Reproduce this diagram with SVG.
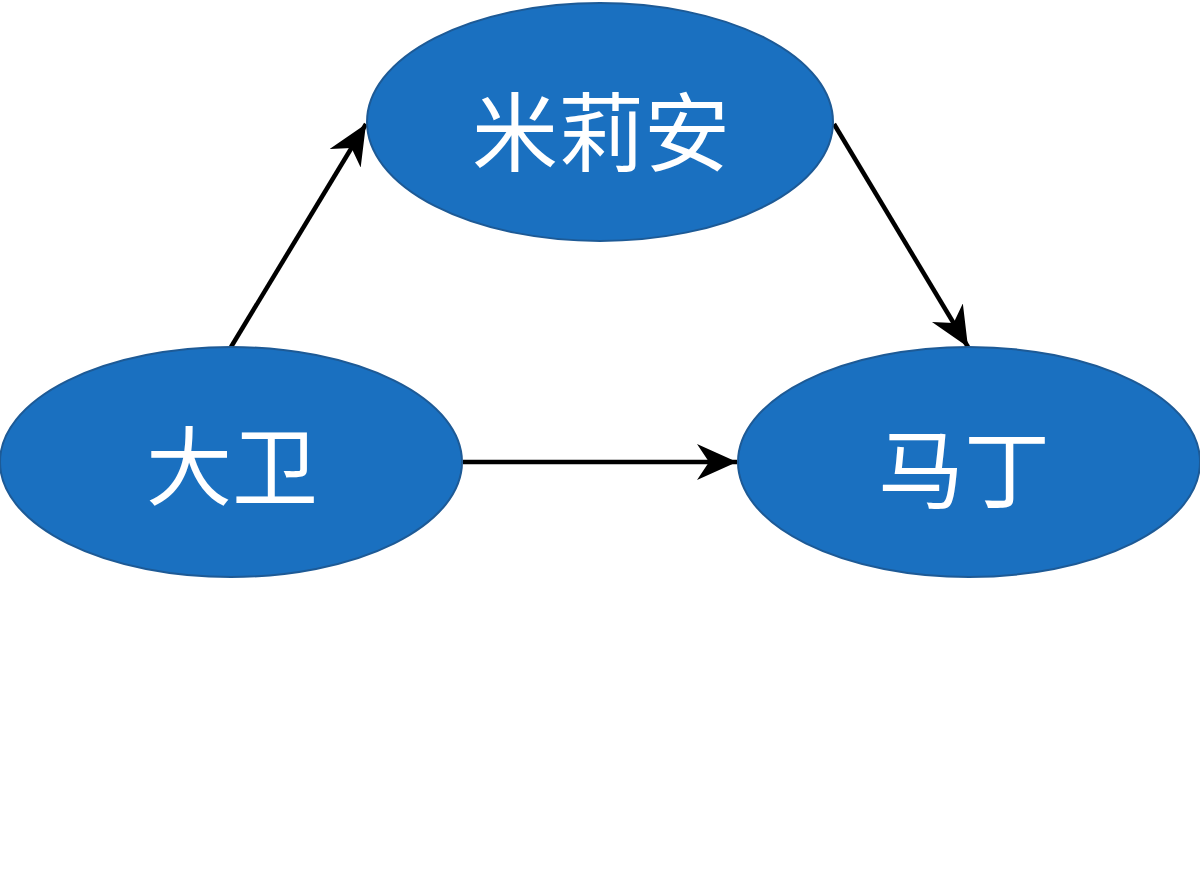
<svg xmlns="http://www.w3.org/2000/svg" width="1200" height="896" viewBox="0 0 1200 896">
<style>
.node{fill:#1a70c0;stroke:#1d5a96;stroke-width:2}
.lbl{fill:#ffffff;font-family:"Noto Sans CJK SC","Noto Sans",sans-serif;font-size:86px;text-anchor:middle;dominant-baseline:central}
.edge{stroke:#000;stroke-width:4.5;fill:none}
</style>
<defs>
<marker id="arr" markerUnits="userSpaceOnUse" markerWidth="42" markerHeight="38" refX="40" refY="18" orient="auto">
<path d="M0,0 L40,18 L0,36 L12,18 Z" fill="#000"/>
</marker>
</defs>
<rect width="1200" height="896" fill="#fff"/>
<g id="connectors">
<line class="edge" x1="231" y1="347" x2="366" y2="124" marker-end="url(#arr)"/>
<line class="edge" x1="834" y1="124" x2="968" y2="347" marker-end="url(#arr)"/>
<line class="edge" x1="463" y1="462" x2="737" y2="462" marker-end="url(#arr)"/>
</g>
<g id="milian">
<ellipse class="node" cx="600" cy="122" rx="233" ry="119"/>
<text class="lbl" x="601" y="127">米莉安</text>
</g>
<g id="dawei">
<ellipse class="node" cx="231" cy="462" rx="231" ry="115"/>
<text class="lbl" x="232" y="461">大卫</text>
</g>
<g id="mading">
<ellipse class="node" cx="969" cy="462" rx="231" ry="115"/>
<text class="lbl" x="964" y="464">马丁</text>
</g>
</svg>
